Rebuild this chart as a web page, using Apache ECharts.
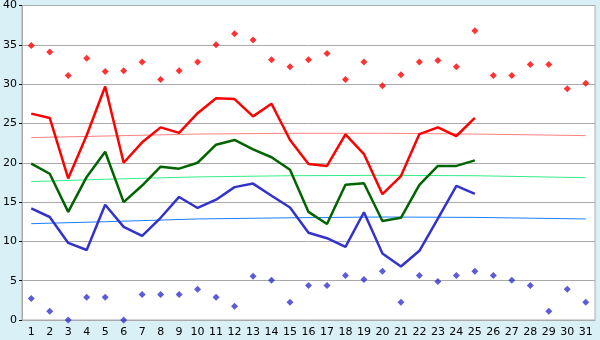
<!DOCTYPE html>
<html>
<head>
<meta charset="utf-8">
<script src="https://cdn.jsdelivr.net/npm/echarts@6/dist/echarts.min.js"></script>
<style>
    html, body { margin: 0; padding: 0; background: #d9f0f7; }
    #chart { width: 600px; height: 340px; }
</style>
</head>
<body>
<div id="chart"></div>
<script>
// days of the month
const days = ['1','2','3','4','5','6','7','8','9','10','11','12','13','14','15','16','17','18','19','20','21','22','23','24','25','26','27','28','29','30','31']

// record highs / lows (diamonds)
const recordHigh = [34.9, 34.1, 31.1, 33.3, 31.6, 31.7, 32.8, 30.6, 31.7, 32.8, 35.0, 36.4, 35.6, 33.1, 32.2, 33.1, 33.9, 30.6, 32.8, 29.8, 31.2, 32.8, 33.0, 32.2, 36.8, 31.1, 31.1, 32.5, 32.5, 29.4, 30.1]
const recordLow = [2.75, 1.1, 0, 2.9, 2.9, 0, 3.25, 3.25, 3.25, 3.9, 2.9, 1.75, 5.55, 5.05, 2.25, 4.4, 4.4, 5.65, 5.15, 6.2, 2.25, 5.65, 4.9, 5.65, 6.2, 5.65, 5.05, 4.4, 1.1, 3.9, 2.25]

// daily max / mean / min, days 1-25
const dayMax = [26.25, 25.7, 18.0, 23.5, 29.7, 20.0, 22.6, 24.5, 23.8, 26.3, 28.2, 28.1, 25.9, 27.5, 22.9, 19.85, 19.6, 23.6, 21.1, 16.0, 18.3, 23.65, 24.5, 23.4, 25.7]
const dayMean = [19.9, 18.6, 13.75, 18.2, 21.4, 15.0, 17.1, 19.5, 19.25, 20.0, 22.3, 22.9, 21.7, 20.7, 19.1, 13.75, 12.2, 17.2, 17.4, 12.6, 13.0, 17.2, 19.6, 19.6, 20.3]
const dayMin = [14.2, 13.1, 9.8, 8.9, 14.65, 11.85, 10.7, 13.0, 15.65, 14.25, 15.3, 16.9, 17.35, 15.8, 14.3, 11.1, 10.4, 9.3, 13.7, 8.45, 6.8, 8.8, 12.9, 17.05, 16.05]

// trend lines read at a few days, nulls are bridged
const trendMax = [23.2, null, null, null, 23.4, null, null, null, null, 23.65, null, null, null, null, 23.75, null, null, null, null, 23.75, null, null, null, null, 23.65, null, null, null, null, null, 23.45]
const trendMean = [17.6, null, null, null, 17.9, null, null, null, null, 18.2, null, null, null, null, 18.35, null, null, null, null, 18.4, null, null, null, null, 18.35, null, null, null, null, null, 18.1]
const trendMin = [12.25, null, null, null, 12.5, null, null, null, null, 12.85, null, null, null, null, 13.0, null, null, null, null, 13.1, null, null, null, null, 13.05, null, null, null, null, null, 12.85]

const chart = echarts.init(document.getElementById('chart'))

function trend(data, color) {
    return {
        type: 'line',
        data: data,
        connectNulls: true,
        symbol: 'none',
        silent: true,
        lineStyle: { color: color, width: 1 },
        z: 1
    }
}

function mainLine(data, color) {
    return {
        type: 'line',
        data: data,
        symbol: 'none',
        lineStyle: { color: color, width: 2.5 },
        z: 3
    }
}

function dots(data, color) {
    return {
        type: 'scatter',
        data: data,
        symbol: 'diamond',
        symbolSize: 7,
        itemStyle: { color: color },
        z: 4
    }
}

chart.setOption({
    animation: false,
    backgroundColor: '#d9f0f7',
    textStyle: { fontFamily: 'DejaVu Sans' },
    grid: {
        left: 20,
        right: 5,
        top: 5,
        bottom: 20,
        show: true,
        backgroundColor: '#ffffff',
        borderColor: '#aaaaaa',
        borderWidth: 1
    },
    xAxis: {
        type: 'category',
        data: days,
        boundaryGap: true,
        axisLine: { lineStyle: { color: '#aaaaaa', width: 1 } },
        axisTick: { alignWithLabel: true, length: 5, lineStyle: { color: '#000000' } },
        axisLabel: { color: '#000000', fontSize: 11, margin: 7, interval: 0 },
        splitLine: { show: false }
    },
    yAxis: {
        type: 'value',
        min: 0,
        max: 40,
        interval: 5,
        axisLine: { show: true, lineStyle: { color: '#aaaaaa', width: 1 } },
        axisTick: { show: true, length: 3, lineStyle: { color: '#000000' } },
        axisLabel: { color: '#000000', fontSize: 11, margin: 5 },
        splitLine: { lineStyle: { color: '#aaaaaa', width: 1 } }
    },
    series: [
        trend(trendMax, '#ff8080'),
        trend(trendMean, '#33ee88'),
        trend(trendMin, '#1a80ff'),
        mainLine(dayMax, '#ff0000'),
        mainLine(dayMean, '#006400'),
        mainLine(dayMin, '#3333cc'),
        dots(recordHigh, '#ff0000'),
        dots(recordLow, '#3333cc')
    ]
})
</script>
</body>
</html>
